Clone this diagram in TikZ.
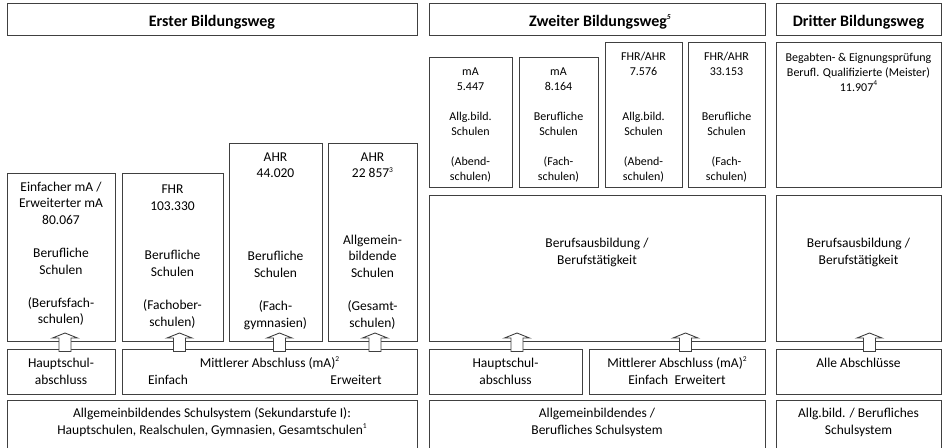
\documentclass[tikz,border=0pt]{standalone}
\usepackage{fontspec}
\setmainfont{Carlito}
\usetikzlibrary{calc}
\newcommand\sups[1]{\raisebox{0.42em}{\fontsize{7.5}{8}\selectfont #1}}
\newcommand\bx[5]{\node[box, anchor=north west, minimum width={(#4-#2)*1pt}, minimum height={(#5-#3)*1pt}] (#1) at (#2,#3) {};}
\newcommand\tx[5]{\node[#1] (#2) at (#3,#4) {\strut #5};}
\newcommand\blkarrow[3]{%
  \draw[barrow] let \p1=(#2.north), \p2=(#3.south) in
   (#1pt-6pt,\y1-2.5pt) -- (#1pt-6pt,\y2+3pt) -- (#1pt-12.5pt,\y2+3pt) -- (#1pt,\y2+8pt)
   -- (#1pt+12.5pt,\y2+3pt) -- (#1pt+6pt,\y2+3pt) -- (#1pt+6pt,\y1-2.5pt) -- cycle;}
\tikzset{
  box/.style={draw=black!75, line width=1pt, inner sep=0pt, outer sep=0pt},
  txt/.style={inner sep=0pt, outer sep=0pt, align=center, anchor=north, font=\fontsize{13.5}{16.6}\selectfont},
  stxt/.style={txt, font=\fontsize{12}{15}\selectfont},
  head/.style={inner sep=0pt, anchor=base, font=\fontsize{16}{19}\selectfont\bfseries},
  barrow/.style={draw=black!75, line width=0.9pt, fill=white, line join=miter},
}
\begin{document}
\begin{tikzpicture}[x=1pt,y=-1pt]
\useasboundingbox (0,0) rectangle (942,447);
\fill[white] (0,0) rectangle (942,447);
\clip (0,0) rectangle (942,447);
% header boxes
\bx{hE}{7}{3}{417}{35}
\bx{hZ}{429}{3}{765}{35}
\bx{hD}{776}{3}{941}{35}
\node[head] (thE) at (212,26) {Erster Bildungsweg};
\node[head] (thZ) at (600,26) {Zweiter Bildungsweg\sups{\itshape 5}};
\node[head] (thD) at (858.5,26) {Dritter Bildungsweg};
% Erster Bildungsweg
\bx{e1}{7}{173}{115}{341}
\bx{e2}{122}{173}{223}{341}
\bx{e3}{229}{143}{322}{341}
\bx{e4}{328}{143}{417}{341}
\bx{eH}{7}{349}{115}{394}
\bx{eM}{122}{349}{417}{394}
\bx{eS}{7}{400}{417}{470}
\tx{txt}{te1}{61}{179.5}{Einfacher mA /\\Erweiterter mA\\80.067\\[16.6pt]Berufliche\\Schulen\\[16.6pt](Berufsfach-\\schulen)}
\tx{txt}{te2}{172.5}{181.8}{FHR\\103.330\\[33.2pt]Berufliche\\Schulen\\[16.6pt](Fachober-\\schulen)}
\tx{txt}{te3}{275.5}{149.5}{AHR\\44.020\\[66.4pt]Berufliche\\Schulen\\[16.6pt](Fach-\\gymnasien)}
\tx{txt}{te4}{372.5}{149.5}{AHR\\22 857\sups{3}\\[49.8pt]Allgemein-\\bildende\\Schulen\\[16.6pt](Gesamt-\\schulen)}
\tx{txt}{teH}{61}{355.8}{Hauptschul-\\abschluss}
\tx{txt}{teM}{269.5}{355.8}{Mittlerer Abschluss (mA)\sups{2}}
\tx{txt}{teMa}{168}{372.8}{Einfach}
\tx{txt}{teMb}{356}{372.8}{Erweitert}
\tx{txt}{teS}{212}{405.8}{Allgemeinbildendes Schulsystem (Sekundarstufe I):\\Hauptschulen, Realschulen, Gymnasien, Gesamtschulen\sups{1}}
% Zweiter Bildungsweg
\bx{z1}{429}{57}{512}{187}
\bx{z2}{519}{57}{598}{187}
\bx{z3}{605}{42}{682}{187}
\bx{z4}{688}{42}{765}{187}
\bx{zB}{429}{195}{765}{341}
\bx{zH}{429}{349}{582}{394}
\bx{zM}{589}{349}{765}{394}
\bx{zS}{429}{400}{765}{470}
\tx{stxt}{tz1}{470.5}{64.5}{mA\\5.447\\[15pt]Allg.bild.\\Schulen\\[15pt](Abend-\\schulen)}
\tx{stxt}{tz2}{558.5}{64.5}{mA\\8.164\\[15pt]Berufliche\\Schulen\\[15pt](Fach-\\schulen)}
\tx{stxt}{tz3}{643.5}{49.5}{FHR/AHR\\7.576\\[30pt]Allg.bild.\\Schulen\\[15pt](Abend-\\schulen)}
\tx{stxt}{tz4}{726.5}{49.5}{FHR/AHR\\33.153\\[30pt]Berufliche\\Schulen\\[15pt](Fach-\\schulen)}
\tx{txt}{tzB}{597}{235.8}{Berufsausbildung /\\Berufstätigkeit}
\tx{txt}{tzH}{505.5}{355.8}{Hauptschul-\\abschluss}
\tx{txt}{tzM}{677}{355.8}{Mittlerer Abschluss (mA)\sups{2}\\Einfach\hspace{6.5pt}Erweitert}
\tx{txt}{tzS}{597}{405.8}{Allgemeinbildendes /\\Berufliches Schulsystem}
% Dritter Bildungsweg
\bx{d1}{776}{42}{941}{187}
\bx{dB}{776}{195}{941}{341}
\bx{dA}{776}{349}{941}{394}
\bx{dS}{776}{400}{941}{470}
\tx{stxt}{td1}{858.5}{50.5}{Begabten- \& Eignungsprüfung\\Berufl. Qualifizierte (Meister)\\11.907\sups{4}}
\tx{txt}{tdB}{858.5}{235.8}{Berufsausbildung /\\Berufstätigkeit}
\tx{txt}{tdA}{858.5}{355.8}{Alle Abschlüsse}
\tx{txt}{tdS}{858.5}{405.8}{Allg.bild. / Berufliches\\Schulsystem}
% arrows
\blkarrow{65}{eH}{e1}
\blkarrow{179.5}{eM}{e2}
\blkarrow{279.5}{eM}{e3}
\blkarrow{375}{eM}{e4}
\blkarrow{517}{zH}{zB}
\blkarrow{685.5}{zM}{zB}
\blkarrow{869.5}{dA}{dB}
\end{tikzpicture}
\end{document}
